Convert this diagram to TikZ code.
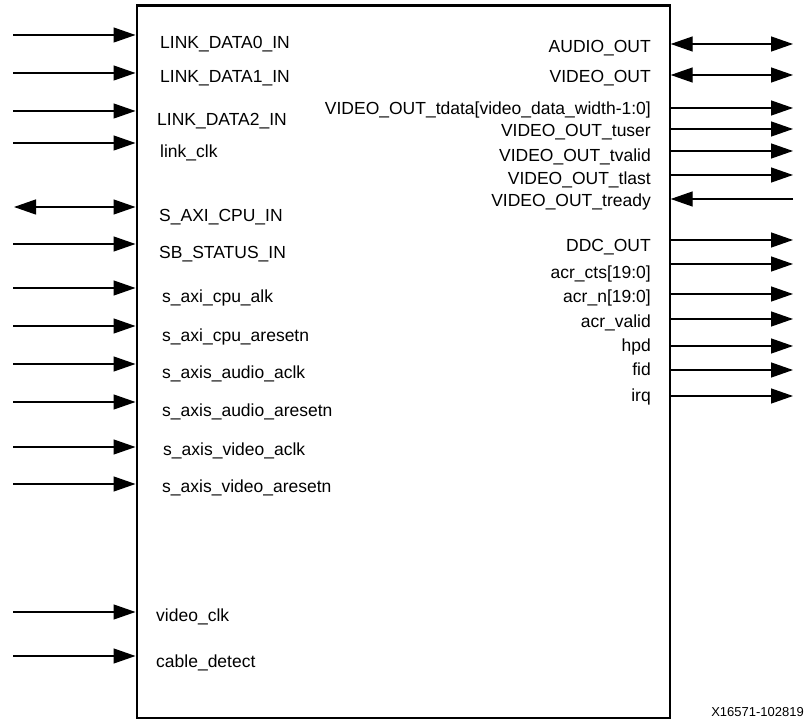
\documentclass[tikz,border=0pt]{standalone}
\usepackage{fontspec}
\setmainfont{Liberation Sans}
\usetikzlibrary{arrows.meta}
\begin{document}
\begin{tikzpicture}[x=1pt,y=-1pt,
  pin/.style={line width=1.3pt},
  tip/.tip={Triangle[length=22pt,width=15pt]},
  lbl/.style={inner sep=0pt,font=\fontsize{17.5}{20}\selectfont},
  wm/.style={inner sep=0pt,font=\fontsize{13}{15}\selectfont}]
\useasboundingbox (0,0) rectangle (807,727);
\node[draw,line width=2.2pt,minimum width=533pt,minimum height=712.5pt,inner sep=0pt,anchor=north west] (blk) at (135.5,4.5) {};
% left inputs
\foreach \i/\ya/\xl/\yb/\t in {
 1/35/160/48.3/LINK\_DATA0\_IN,
 2/73/160/82.7/LINK\_DATA1\_IN,
 3/111/157/126/LINK\_DATA2\_IN,
 4/143/160/158/link\_clk,
 6/244/159/259/SB\_STATUS\_IN,
 7/288/162/303/s\_axi\_cpu\_alk,
 8/326/162/342/s\_axi\_cpu\_aresetn,
 9/364/162/379/s\_axis\_audio\_aclk,
 10/402/162/417/s\_axis\_audio\_aresetn,
 11/447/163/456/s\_axis\_video\_aclk,
 12/484/162/493/s\_axis\_video\_aresetn,
 13/612/156/621/video\_clk,
 14/656/156/667/cable\_detect}{
  \coordinate (L\i) at (13,\ya);
  \draw[pin,-tip] (L\i) -- (blk.west |- L\i);
  \node[lbl,anchor=base west] (ll\i) at (\xl,\yb) {\t};
}
% bidirectional left
\coordinate (L5) at (14,207);
\draw[pin,tip-tip] (L5) -- (blk.west |- L5);
\node[lbl,anchor=base west] (ll5) at (159,221.7) {S\_AXI\_CPU\_IN};
% right bidirectional
\foreach \i/\ya/\yb/\t in {
 1/44/52.7/AUDIO\_OUT,
 2/75/83/VIDEO\_OUT}{
  \coordinate (R\i) at (793,\ya);
  \draw[pin,tip-tip] (blk.east |- R\i) -- (R\i);
  \node[lbl,anchor=base east] (rl\i) at (651,\yb) {\t};
}
% right outputs
\foreach \i/\ya/\yb/\t in {
 3/108/115/VIDEO\_OUT\_tdata[video\_data\_width-1:0],
 4/129/136.7/VIDEO\_OUT\_tuser,
 5/151/161.7/VIDEO\_OUT\_tvalid,
 6/175/185/VIDEO\_OUT\_tlast,
 8/240/251.7/DDC\_OUT,
 9/264/279/acr\_cts[19:0],
 10/294/302.7/acr\_n[19:0],
 11/319/328/acr\_valid,
 12/346/351.7/hpd,
 13/370/376/fid,
 14/396/401.7/irq}{
  \coordinate (R\i) at (793,\ya);
  \draw[pin,-tip] (blk.east |- R\i) -- (R\i);
  \node[lbl,anchor=base east] (rl\i) at (651,\yb) {\t};
}
% right input
\coordinate (R7) at (793,199);
\draw[pin,-tip] (R7) -- (blk.east |- R7);
\node[lbl,anchor=base east] (rl7) at (651,206.7) {VIDEO\_OUT\_tready};
\node[wm,anchor=base east] (wm) at (804,716) {X16571-102819};
\end{tikzpicture}
\end{document}
